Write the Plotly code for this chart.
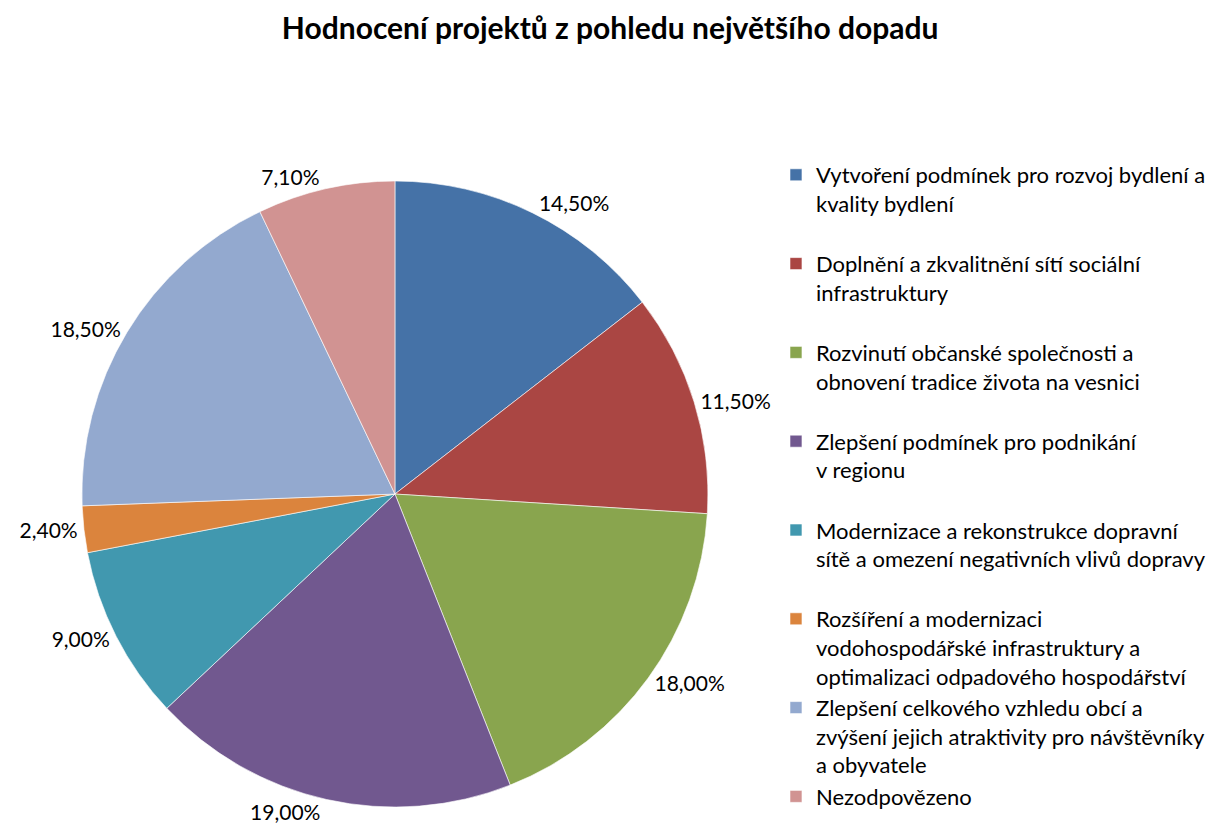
import plotly.graph_objects as go

categories = [
    "Vytvoření podmínek pro rozvoj bydlení a<br>kvality bydlení<br> ",
    "Doplnění a zkvalitnění sítí sociální<br>infrastruktury<br> ",
    "Rozvinutí občanské společnosti a<br>obnovení tradice života na vesnici<br> ",
    "Zlepšení podmínek pro podnikání<br>v regionu<br> ",
    "Modernizace a rekonstrukce dopravní<br>sítě a omezení negativních vlivů dopravy<br> ",
    "Rozšíření a modernizaci<br>vodohospodářské infrastruktury a<br>optimalizaci odpadového hospodářství",
    "Zlepšení celkového vzhledu obcí a<br>zvýšení jejich atraktivity pro návštěvníky<br>a obyvatele",
    "Nezodpovězeno",
]
values = [14.5, 11.5, 18.0, 19.0, 9.0, 2.4, 18.5, 7.1]
value_labels = ["14,50%", "11,50%", "18,00%", "19,00%", "9,00%", "2,40%", "18,50%", "7,10%"]
colors = ["#4572A7", "#AA4643", "#89A54E", "#71588F", "#4198AF", "#DB843D", "#93A9CF", "#D19392"]

fig = go.Figure(go.Pie(
    labels=categories,
    values=values,
    text=value_labels,
    textinfo="text",
    textposition="outside",
    sort=False,
    direction="clockwise",
    rotation=0,
    marker=dict(colors=colors, line=dict(color="rgba(255,255,255,0.6)", width=1)),
    outsidetextfont=dict(family="Lato", size=21, color="#000000"),
    domain=dict(x=[0.0609, 0.5766], y=[0.0476, 0.7938]),
    hoverinfo="label+text",
))

fig.update_layout(
    width=1214, height=839,
    margin=dict(l=0, r=0, t=0, b=0),
    paper_bgcolor="white",
    title=dict(text="<b>Hodnocení projektů z pohledu největšího dopadu</b>",
               x=0.496, xanchor="center", y=0.975, yanchor="middle",
               font=dict(family="Lato", size=30, color="#000000")),
    legend=dict(x=0.6326, xanchor="left", y=0.826, yanchor="top",
                font=dict(family="Lato", size=22, color="#000000"),
                valign="top", tracegroupgap=0),
)

fig.write_html("out.html")
